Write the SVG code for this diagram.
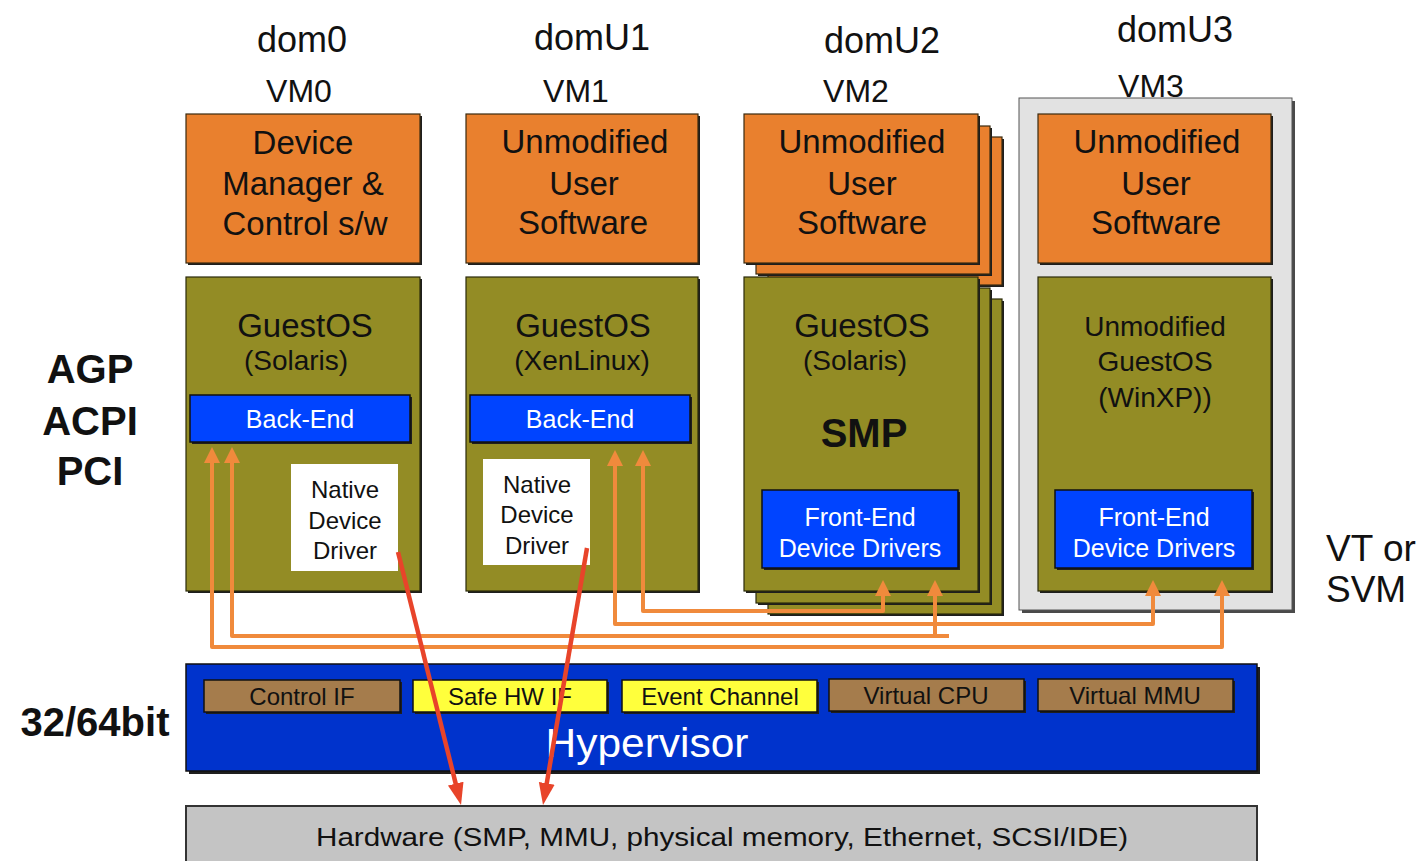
<svg xmlns="http://www.w3.org/2000/svg" width="1424" height="861" viewBox="0 0 1424 861">
<style>
.t{font-family:"Liberation Sans",Arial,Helvetica,sans-serif;text-anchor:middle;fill:#111}
.b{font-weight:bold}
.w{fill:#fff}
.or{fill:#e9802e;stroke:#3a2a10;stroke-width:1.2}
.ol{fill:#938c25;stroke:#2a2a0a;stroke-width:1.2}
.sh{fill:#1e1e1e}
.bl{fill:#0044ff;stroke:#111;stroke-width:1.5}
.wh{fill:#fff}
.br{fill:#a57c4c;stroke:#111;stroke-width:1.5}
.ye{fill:#ffff3c;stroke:#111;stroke-width:1.5}
.ob{stroke:#f08a3c;stroke-width:4;fill:none;stroke-linejoin:round}
.rd{stroke:#e8442a;stroke-width:4.5;fill:none}
</style>
<defs>
<marker id="oa" markerUnits="userSpaceOnUse" markerWidth="24" markerHeight="20" viewBox="0 -10 24 20" refX="2" refY="0" orient="auto-start-reverse"><path d="M0,-8 L16,0 L0,8 z" fill="#f08a3c"/></marker>
<marker id="ra" markerUnits="userSpaceOnUse" markerWidth="26" markerHeight="20" viewBox="0 -10 26 20" refX="2" refY="0" orient="auto"><path d="M0,-8 L22,0 L0,8 z" fill="#e8442a"/></marker>
</defs>
<rect width="1424" height="861" fill="#fff"/>

<g id="labels">
<text class="t" x="302" y="52" font-size="36">dom0</text>
<text class="t" x="299" y="102" font-size="32">VM0</text>
<text class="t" x="592" y="50" font-size="36">domU1</text>
<text class="t" x="576" y="102" font-size="32">VM1</text>
<text class="t" x="882" y="53" font-size="36">domU2</text>
<text class="t" x="856" y="102" font-size="32">VM2</text>
<text class="t" x="1175" y="42" font-size="36">domU3</text>
<text class="t" x="1151" y="97" font-size="32">VM3</text>
<text class="t b" x="90" y="383" font-size="40">AGP</text>
<text class="t b" x="90" y="435" font-size="40">ACPI</text>
<text class="t b" x="90" y="485" font-size="40">PCI</text>
<text class="t b" x="95" y="736" font-size="40">32/64bit</text>
<text class="t" x="1326" y="561" font-size="37" style="text-anchor:start">VT or</text>
<text class="t" x="1326" y="602" font-size="37" style="text-anchor:start">SVM</text>
</g>

<g id="dom0">
<rect class="sh" x="188" y="116" width="234" height="149"/>
<rect class="or" x="186" y="114" width="234" height="149"/>
<text class="t" x="303" y="154" font-size="33">Device</text>
<text class="t" x="303" y="195" font-size="33">Manager &amp;</text>
<text class="t" x="305" y="235" font-size="33">Control s/w</text>
<rect class="sh" x="188" y="279" width="234" height="314"/>
<rect class="ol" x="186" y="277" width="234" height="314"/>
<text class="t" x="305" y="337" font-size="33">GuestOS</text>
<text class="t" x="296" y="370" font-size="28">(Solaris)</text>
<rect class="sh" x="192" y="397" width="220" height="47"/>
<rect class="bl" x="190" y="395" width="220" height="47"/>
<text class="t w" x="300" y="428" font-size="25">Back-End</text>
<rect class="wh" x="291" y="464" width="107" height="107"/>
<text class="t" x="345" y="498" font-size="24">Native</text>
<text class="t" x="345" y="529" font-size="24">Device</text>
<text class="t" x="345" y="559" font-size="24">Driver</text>
</g>

<g id="domU1">
<rect class="sh" x="468" y="116" width="232" height="149"/>
<rect class="or" x="466" y="114" width="232" height="149"/>
<text class="t" x="585" y="153" font-size="33">Unmodified</text>
<text class="t" x="584" y="195" font-size="33">User</text>
<text class="t" x="583" y="234" font-size="33">Software</text>
<rect class="sh" x="468" y="279" width="232" height="314"/>
<rect class="ol" x="466" y="277" width="232" height="314"/>
<text class="t" x="583" y="337" font-size="33">GuestOS</text>
<text class="t" x="582" y="370" font-size="28">(XenLinux)</text>
<rect class="sh" x="472" y="397" width="220" height="47"/>
<rect class="bl" x="470" y="395" width="220" height="47"/>
<text class="t w" x="580" y="428" font-size="25">Back-End</text>
<rect class="wh" x="483" y="459" width="107" height="106"/>
<text class="t" x="537" y="493" font-size="24">Native</text>
<text class="t" x="537" y="523" font-size="24">Device</text>
<text class="t" x="537" y="554" font-size="24">Driver</text>
</g>

<g id="domU2">
<rect class="sh" x="770" y="139" width="234" height="148"/>
<rect class="or" x="768" y="137" width="234" height="148"/>
<rect class="sh" x="758" y="128" width="234" height="148"/>
<rect class="or" x="756" y="126" width="234" height="148"/>
<rect class="sh" x="746" y="116" width="234" height="149"/>
<rect class="or" x="744" y="114" width="234" height="149"/>
<text class="t" x="862" y="153" font-size="33">Unmodified</text>
<text class="t" x="862" y="195" font-size="33">User</text>
<text class="t" x="862" y="234" font-size="33">Software</text>
<rect class="sh" x="770" y="301" width="234" height="315"/>
<rect class="ol" x="768" y="299" width="234" height="315"/>
<rect class="sh" x="758" y="290" width="234" height="315"/>
<rect class="ol" x="756" y="288" width="234" height="315"/>
<rect class="sh" x="746" y="279" width="234" height="314"/>
<rect class="ol" x="744" y="277" width="234" height="314"/>
<text class="t" x="862" y="337" font-size="33">GuestOS</text>
<text class="t" x="855" y="370" font-size="28">(Solaris)</text>
<text class="t b" x="864" y="447" font-size="40">SMP</text>
<rect class="sh" x="764" y="492" width="196" height="78"/>
<rect class="bl" x="762" y="490" width="196" height="78"/>
<text class="t w" x="860" y="526" font-size="25">Front-End</text>
<text class="t w" x="860" y="557" font-size="25">Device Drivers</text>
</g>

<g id="domU3">
<rect x="1022" y="101" width="273" height="512" fill="#4a4a4a"/>
<rect x="1019" y="98" width="273" height="512" fill="#e2e2e2" stroke="#555" stroke-width="1"/>
<rect class="sh" x="1040" y="116" width="233" height="149"/>
<rect class="or" x="1038" y="114" width="233" height="149"/>
<text class="t" x="1157" y="153" font-size="33">Unmodified</text>
<text class="t" x="1156" y="195" font-size="33">User</text>
<text class="t" x="1156" y="234" font-size="33">Software</text>
<rect class="sh" x="1040" y="279" width="233" height="314"/>
<rect class="ol" x="1038" y="277" width="233" height="314"/>
<text class="t" x="1155" y="336" font-size="28">Unmodified</text>
<text class="t" x="1155" y="371" font-size="28">GuestOS</text>
<text class="t" x="1155" y="407" font-size="28">(WinXP))</text>
<rect class="sh" x="1057" y="492" width="197" height="78"/>
<rect class="bl" x="1055" y="490" width="197" height="78"/>
<text class="t w" x="1154" y="526" font-size="25">Front-End</text>
<text class="t w" x="1154" y="557" font-size="25">Device Drivers</text>
</g>

<g id="hypervisor">
<rect class="sh" x="189" y="667" width="1071" height="107"/>
<rect x="186" y="664" width="1071" height="107" fill="#0033cc" stroke="#111" stroke-width="1.5"/>
<rect class="sh" x="206" y="682" width="196" height="32"/>
<rect class="br" x="204" y="680" width="196" height="32"/>
<text class="t" x="302" y="705" font-size="24">Control IF</text>
<rect class="sh" x="415" y="682" width="194" height="32"/>
<rect class="ye" x="413" y="680" width="194" height="32"/>
<text class="t" x="510" y="705" font-size="24">Safe HW IF</text>
<rect class="sh" x="624" y="682" width="195" height="32"/>
<rect class="ye" x="622" y="680" width="195" height="32"/>
<text class="t" x="720" y="705" font-size="24">Event Channel</text>
<rect class="sh" x="831" y="681" width="195" height="32"/>
<rect class="br" x="829" y="679" width="195" height="32"/>
<text class="t" x="926" y="704" font-size="24">Virtual CPU</text>
<rect class="sh" x="1040" y="681" width="195" height="32"/>
<rect class="br" x="1038" y="679" width="195" height="32"/>
<text class="t" x="1135" y="704" font-size="24">Virtual MMU</text>
<text class="t w" x="647" y="757" font-size="40" textLength="203" lengthAdjust="spacingAndGlyphs">Hypervisor</text>
</g>

<g id="hardware">
<rect x="186" y="806" width="1071" height="60" fill="#c4c4c4" stroke="#333" stroke-width="2"/>
<text class="t" x="722" y="846" font-size="26" textLength="812" lengthAdjust="spacingAndGlyphs">Hardware (SMP, MMU, physical memory, Ethernet, SCSI/IDE)</text>
</g>

<g id="connectors">
<path class="ob" d="M212,461 V647 H1222 V594" marker-start="url(#oa)" marker-end="url(#oa)"/>
<path class="ob" d="M232,461 V636 H949" marker-start="url(#oa)"/>
<path class="ob" d="M935,636 V594" marker-end="url(#oa)"/>
<path class="ob" d="M615,464 V624 H1153 V594" marker-start="url(#oa)" marker-end="url(#oa)"/>
<path class="ob" d="M643,464 V611 H883 V594" marker-start="url(#oa)" marker-end="url(#oa)"/>
<path class="rd" d="M398,552 L456.2,785.6" marker-end="url(#ra)"/>
<path class="rd" d="M587,548 L546.4,785.3" marker-end="url(#ra)"/>
</g>
</svg>
